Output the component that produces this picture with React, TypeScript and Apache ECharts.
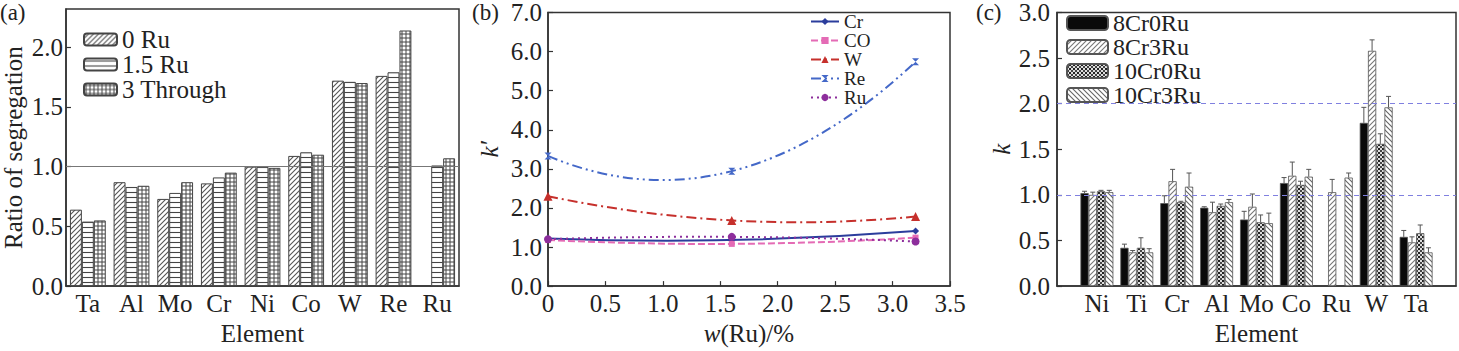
import React, { useEffect, useRef } from "react";
import * as echarts from "echarts";

// ---------- Panel (a) ----------
const elementsA = ["Ta", "Al", "Mo", "Cr", "Ni", "Co", "W", "Re", "Ru"];
const ratio0Ru = [0.64, 0.87, 0.73, 0.86, 1.0, 1.09, 1.72, 1.76, null];
const ratio15Ru = [0.54, 0.83, 0.78, 0.91, 1.0, 1.12, 1.71, 1.79, 1.01];
const ratio3Through = [0.55, 0.84, 0.87, 0.95, 0.99, 1.1, 1.7, 2.14, 1.07];
const seriesNamesA = ["0 Ru", "1.5 Ru", "3 Through"];

// ---------- Panel (b) ----------
const ruContent = [0, 1.6, 3.2];
const kCr = [1.22, 1.18, 1.41];
const kCO = [1.18, 1.08, 1.24];
const kW = [2.3, 1.68, 1.78];
const kRe = [3.33, 2.94, 5.74];
const kRu = [1.2, 1.26, 1.14];
const seriesNamesB = ["Cr", "CO", "W", "Re", "Ru"];

// ---------- Panel (c) ----------
const elementsC = ["Ni", "Ti", "Cr", "Al", "Mo", "Co", "Ru", "W", "Ta"];
const k8Cr0Ru = [1.02, 0.42, 0.91, 0.86, 0.73, 1.13, null, 1.79, 0.54];
const k8Cr0RuErr = [0.02, 0.04, 0.08, 0.01, 0.09, 0.06, null, 0.17, 0.07];
const k8Cr3Ru = [1.0, 0.37, 1.15, 0.81, 0.87, 1.21, 1.03, 2.58, 0.48];
const k8Cr3RuErr = [0.03, 0.02, 0.13, 0.11, 0.14, 0.15, 0.14, 0.12, 0.06];
const k10Cr0Ru = [1.04, 0.42, 0.92, 0.88, 0.7, 1.11, null, 1.56, 0.58];
const k10Cr0RuErr = [0.01, 0.11, 0.01, 0.02, 0.08, 0.04, null, 0.11, 0.09];
const k10Cr3Ru = [1.03, 0.37, 1.09, 0.92, 0.69, 1.2, 1.19, 1.96, 0.37];
const k10Cr3RuErr = [0.02, 0.04, 0.15, 0.03, 0.11, 0.08, 0.05, 0.12, 0.05];
const seriesNamesC = ["8Cr0Ru", "8Cr3Ru", "10Cr0Ru", "10Cr3Ru"];

const FONT = "Liberation Serif";
const TXT = "#222";
const FRAME = "#333";

function makePattern(kind: string, size: number, fg: string, bg: string, lw: number) {
  const c = document.createElement("canvas");
  c.width = size;
  c.height = size;
  const g = c.getContext("2d")!;
  g.fillStyle = bg;
  g.fillRect(0, 0, size, size);
  g.strokeStyle = fg;
  g.fillStyle = fg;
  g.lineWidth = lw;
  g.beginPath();
  const s = size;
  if (kind === "diag") {
    g.moveTo(0, s); g.lineTo(s, 0);
    g.moveTo(-s / 2, s / 2); g.lineTo(s / 2, -s / 2);
    g.moveTo(s / 2, s * 1.5); g.lineTo(s * 1.5, s / 2);
    g.stroke();
  } else if (kind === "back") {
    g.moveTo(0, 0); g.lineTo(s, s);
    g.moveTo(-s / 2, s / 2); g.lineTo(s / 2, s * 1.5);
    g.moveTo(s / 2, -s / 2); g.lineTo(s * 1.5, s / 2);
    g.stroke();
  } else if (kind === "horiz") {
    g.moveTo(0, s / 2); g.lineTo(s, s / 2);
    g.stroke();
  } else if (kind === "grid") {
    g.moveTo(0, s / 2); g.lineTo(s, s / 2);
    g.moveTo(s / 2, 0); g.lineTo(s / 2, s);
    g.stroke();
  } else if (kind === "check") {
    g.fillStyle = fg;
    g.fillRect(0, 0, s, s);
    g.fillStyle = bg;
    g.fillRect(0, 0, s / 2, s / 2);
    g.fillRect(s / 2, s / 2, s / 2, s / 2);
    g.fillStyle = "#222";
    g.fillRect(s / 2, 0, s / 2, s / 2);
  }
  return { image: c, repeat: "repeat", imageWidth: s, imageHeight: s } as any;
}

export default function App() {
  const ref = useRef<HTMLDivElement>(null);
  useEffect(() => {
    document.body.style.margin = "0";
    const chart = echarts.init(ref.current!, null, { renderer: "svg" });

    const patA = [
      makePattern("diag", 5, "#555", "#fff", 1.1),
      makePattern("horiz", 5, "#444", "#fff", 1.1),
      makePattern("grid", 4, "#444", "#fff", 1),
    ];
    const patC = [
      "#0a0a0a",
      makePattern("diag", 5, "#777", "#fff", 1.1),
      makePattern("check", 4, "#444", "#ddd", 1),
      makePattern("back", 5, "#666", "#fff", 1.1),
    ];

    const FS = 25;
    const axisLabel = { fontFamily: FONT, fontSize: FS, color: TXT };
    const nameStyle = { fontFamily: FONT, fontSize: FS, color: TXT };
    const axisLine = { show: true, onZero: false, lineStyle: { color: FRAME, width: 1.5 } };
    const tick = { show: true, inside: true, length: 5, lineStyle: { color: FRAME, width: 1.2 } };
    const gridBase = { show: true, borderColor: FRAME, borderWidth: 1.5, backgroundColor: "transparent" };

    const aData = [ratio0Ru, ratio15Ru, ratio3Through];
    const bData = [kCr, kCO, kW, kRe, kRu];
    const bColors = ["#2b3d9c", "#e46bb5", "#c6302c", "#4468c8", "#8d2e9c"];
    const bSymbols = ["diamond", "rect", "triangle", "path://M0,0L10,0L0,10L10,10Z", "circle"];
    const bSymSizes = [7, 6, 9, 7, 8];
    const bDash: any[] = ["solid", [7, 3], [10, 4, 2, 4], [10, 4, 2, 4, 2, 4], [2, 4]];
    const cData = [k8Cr0Ru, k8Cr3Ru, k10Cr0Ru, k10Cr3Ru];
    const cErr = [k8Cr0RuErr, k8Cr3RuErr, k10Cr0RuErr, k10Cr3RuErr];

    const errData: any[] = [];
    cData.forEach((arr, s) => {
      arr.forEach((v, i) => {
        const e = cErr[s][i];
        if (v != null && e != null) errData.push([i, v, v + e, s]);
      });
    });

    const catGapC = 0.175;

    const series: any[] = [];
    aData.forEach((arr, s) => {
      series.push({
        name: seriesNamesA[s],
        type: "bar",
        xAxisIndex: 0,
        yAxisIndex: 0,
        data: arr,
        barGap: "0%",
        barCategoryGap: "18%",
        itemStyle: { color: patA[s], borderColor: "#444", borderWidth: 1 },
        markLine:
          s === 0
            ? {
                silent: true,
                symbol: "none",
                label: { show: false },
                lineStyle: { color: "#777", width: 1, type: "solid" },
                data: [{ yAxis: 1 }],
              }
            : undefined,
      });
    });
    // smooth curves through the three measured points (quadratic through them)
    bData.forEach((arr, s) => {
      series.push({
        type: "custom",
        xAxisIndex: 1,
        yAxisIndex: 1,
        data: [[ruContent[0], arr[0]]],
        z: 2,
        silent: true,
        renderItem: (params: any, api: any) => {
          const p0 = api.coord([ruContent[0], arr[0]]);
          const p1 = api.coord([ruContent[1], arr[1]]);
          const p2 = api.coord([ruContent[2], arr[2]]);
          const cx = 2 * p1[0] - (p0[0] + p2[0]) / 2;
          const cy = 2 * p1[1] - (p0[1] + p2[1]) / 2;
          return {
            type: "bezierCurve",
            shape: { x1: p0[0], y1: p0[1], x2: p2[0], y2: p2[1], cpx1: cx, cpy1: cy },
            style: {
              stroke: bColors[s],
              lineWidth: 2,
              fill: null,
              lineDash: bDash[s] === "solid" ? null : bDash[s],
            },
          };
        },
      });
    });
    bData.forEach((arr, s) => {
      series.push({
        name: seriesNamesB[s],
        type: "line",
        xAxisIndex: 1,
        yAxisIndex: 1,
        data: ruContent.map((x, i) => [x, arr[i]]),
        z: 3,
        symbol: bSymbols[s],
        symbolSize: bSymSizes[s],
        lineStyle: { color: bColors[s], width: 2, type: bDash[s], opacity: 0 },
        itemStyle: { color: bColors[s] },
      });
    });
    cData.forEach((arr, s) => {
      series.push({
        name: seriesNamesC[s],
        type: "bar",
        xAxisIndex: 2,
        yAxisIndex: 2,
        data: arr.map((v, i) => (v == null ? [i, null] : [i, v])),
        barGap: "0%",
        barCategoryGap: catGapC * 100 + "%",
        itemStyle: { color: patC[s], borderColor: "#555", borderWidth: 0.8 },
        markLine:
          s === 0
            ? {
                silent: true,
                symbol: "none",
                label: { show: false },
                lineStyle: { color: "#8080e0", width: 1.2, type: [5, 4] },
                data: [{ yAxis: 1 }, { yAxis: 2 }],
              }
            : undefined,
      });
    });
    series.push({
      type: "custom",
      xAxisIndex: 2,
      yAxisIndex: 2,
      data: errData,
      encode: { x: 0, y: [1, 2] },
      z: 5,
      silent: true,
      renderItem: (params: any, api: any) => {
        const c = api.value(0);
        const base = api.coord([c, api.value(1)]);
        const top = api.coord([c, api.value(2)]);
        const s = api.value(3);
        const band = api.size([1, 0])[0];
        const bw = (band * (1 - catGapC)) / 4;
        const x = base[0] + (s - 1.5) * bw;
        const st = { stroke: "#555", lineWidth: 1 };
        return {
          type: "group",
          children: [
            { type: "line", shape: { x1: x, y1: base[1], x2: x, y2: top[1] }, style: st },
            { type: "line", shape: { x1: x - 2.5, y1: top[1], x2: x + 2.5, y2: top[1] }, style: st },
          ],
        };
      },
    });

    const option: any = {
      animation: false,
      backgroundColor: "#fff",
      textStyle: { fontFamily: FONT },
      grid: [
        { ...gridBase, left: 63, top: 9, width: 396, height: 286 },
        { ...gridBase, left: 548, top: 9, width: 402, height: 286 },
        { ...gridBase, left: 1057, top: 9, width: 400, height: 286 },
      ],
      xAxis: [
        {
          gridIndex: 0,
          type: "category",
          data: elementsA,
          axisLine,
          axisTick: { ...tick, alignWithLabel: true, interval: 0 },
          axisLabel: { ...axisLabel, margin: 5, interval: 0 },
          name: "Element",
          nameLocation: "middle",
          nameGap: 29,
          nameTextStyle: nameStyle,
        },
        {
          gridIndex: 1,
          type: "value",
          min: 0,
          max: 3.5,
          interval: 0.5,
          splitLine: { show: false },
          axisLine,
          axisTick: tick,
          axisLabel: { ...axisLabel, margin: 5, formatter: (v: number) => (v === 0 ? "0" : v.toFixed(1)) },
          name: "{i|w}(Ru)/%",
          nameLocation: "middle",
          nameGap: 30,
          nameTextStyle: { ...nameStyle, rich: { i: { fontFamily: FONT, fontSize: FS, fontStyle: "italic", color: TXT } } },
        },
        {
          gridIndex: 2,
          type: "value",
          min: -1,
          max: 9,
          interval: 1,
          splitLine: { show: false },
          axisLine,
          axisTick: { show: false },
          axisLabel: {
            ...axisLabel,
            margin: 5,
            formatter: (v: number) => elementsC[Math.round(v)] ?? "",
          },
          name: "Element",
          nameLocation: "middle",
          nameGap: 30,
          nameTextStyle: nameStyle,
        },
      ],
      yAxis: [
        {
          gridIndex: 0,
          type: "value",
          min: 0,
          max: 2.32,
          interval: 0.5,
          splitLine: { show: false },
          axisLine,
          axisTick: tick,
          axisLabel: { ...axisLabel, margin: 3, showMaxLabel: false, formatter: (v: number) => v.toFixed(1) },
          name: "Ratio of segregation",
          nameLocation: "middle",
          nameGap: 40,
          nameTextStyle: nameStyle,
        },
        {
          gridIndex: 1,
          type: "value",
          min: 0,
          max: 7,
          interval: 1,
          splitLine: { show: false },
          axisLine,
          axisTick: tick,
          axisLabel: { ...axisLabel, margin: 6, formatter: (v: number) => v.toFixed(1) },
          name: "k′",
          nameLocation: "middle",
          nameGap: 46,
          nameTextStyle: { ...nameStyle, fontStyle: "italic" },
        },
        {
          gridIndex: 2,
          type: "value",
          min: 0,
          max: 3,
          interval: 0.5,
          splitLine: { show: false },
          axisLine,
          axisTick: tick,
          axisLabel: { ...axisLabel, margin: 7, formatter: (v: number) => v.toFixed(1) },
          name: "k",
          nameLocation: "middle",
          nameGap: 43,
          nameTextStyle: { ...nameStyle, fontStyle: "italic" },
        },
      ],
      legend: [
        {
          data: seriesNamesA,
          orient: "vertical",
          left: 83,
          top: 27,
          padding: 0,
          itemGap: 0,
          itemWidth: 33,
          itemHeight: 12,
          textStyle: { fontFamily: FONT, fontSize: 25, lineHeight: 22, color: TXT },
        },
        {
          data: seriesNamesB.map((n, s) => ({
            name: n,
            lineStyle: { color: bColors[s], width: 2, type: bDash[s], opacity: 1 },
          })),
          orient: "vertical",
          left: 810,
          top: 12,
          padding: 0,
          itemGap: 0,
          itemWidth: 28,
          itemHeight: 9,
          textStyle: { fontFamily: FONT, fontSize: 19, lineHeight: 16, color: TXT },
        },
        {
          data: seriesNamesC,
          orient: "vertical",
          left: 1066,
          top: 11,
          padding: 0,
          itemGap: 0,
          itemWidth: 41,
          itemHeight: 14,
          textStyle: { fontFamily: FONT, fontSize: 24, lineHeight: 23, color: TXT },
        },
      ],
      graphic: [
        { type: "text", left: 0, top: 1, style: { text: "(a)", font: `23px "${FONT}"`, fill: TXT } },
        { type: "text", left: 472, top: 1, style: { text: "(b)", font: `23px "${FONT}"`, fill: TXT } },
        { type: "text", left: 976, top: 1, style: { text: "(c)", font: `23px "${FONT}"`, fill: TXT } },
      ],
      series,
    };
    chart.setOption(option);
    return () => chart.dispose();
  }, []);
  return <div ref={ref} style={{ position: "absolute", left: 0, top: 0, width: 1459, height: 351 }} />;
}
